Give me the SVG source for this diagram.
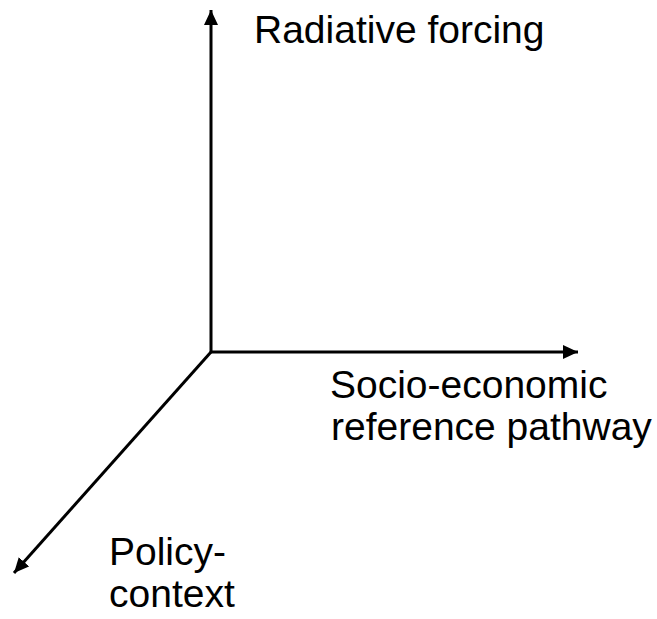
<svg xmlns="http://www.w3.org/2000/svg" width="657" height="619" viewBox="0 0 657 619">
<style>
.ax{stroke:#000;stroke-width:3;fill:none}
.lbl{font-family:"Liberation Sans",Arial,sans-serif;font-size:39px;fill:#000}
</style>
<defs>
<marker id="ah" viewBox="0 0 15 14" refX="15" refY="7" markerWidth="15" markerHeight="14" markerUnits="userSpaceOnUse" orient="auto">
<path d="M0,0 L15,7 L0,14 Z" fill="#000"/>
</marker>
</defs>
<rect width="657" height="619" fill="#fff"/>
<g id="connectors">
<line class="ax" x1="211" y1="353" x2="211" y2="10" marker-end="url(#ah)"/>
<line class="ax" x1="210" y1="352" x2="578" y2="352" marker-end="url(#ah)"/>
<line class="ax" x1="211" y1="352" x2="14" y2="573" marker-end="url(#ah)"/>
</g>
<g id="radiative">
<text class="lbl" x="254" y="43">Radiative forcing</text>
</g>
<g id="socio">
<text class="lbl" x="330" y="398">Socio-economic</text>
<text class="lbl" x="331" y="440">reference pathway</text>
</g>
<g id="policy">
<text class="lbl" x="109" y="565">Policy-</text>
<text class="lbl" x="109" y="607">context</text>
</g>
</svg>
